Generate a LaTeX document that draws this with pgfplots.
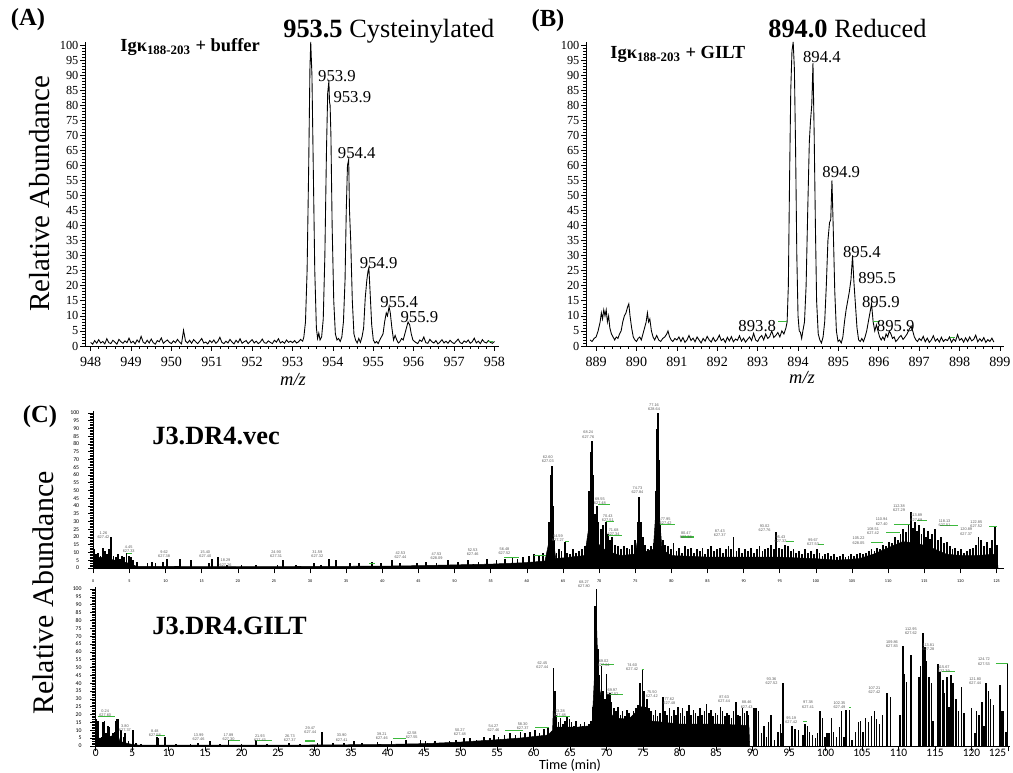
\documentclass[border=0pt]{standalone}
\usepackage{fontspec}
\setmainfont{Liberation Serif}
\newfontfamily\carlito{Carlito}
\newfontfamily\lsans{Liberation Sans}
\usepackage{pgfplots}
\pgfplotsset{compat=1.18}
\definecolor{annog}{RGB}{60,185,60}
\newcommand{\pk}[4]{\node[pklab] at (axis cs:#1,#2) {#3\\#4};}
\tikzset{
  pklab/.style={font=\lsans\fontsize{2.2}{2.4}\selectfont, text=gray!70!black, align=center, inner sep=0pt},
  plab/.style={font=\fontsize{9.5}{9.5}\selectfont, inner sep=0pt},
}
\begin{document}
\begin{tikzpicture}[x=1cm,y=1cm]
\path[use as bounding box] (0,0) rectangle (20.26,15.44);
\pgfplotsset{
  msax/.style={
    scale only axis, anchor=south west, clip=false,
    axis x line=bottom, axis y line=left, axis line style={-, line width=0.5pt},
    tick align=outside, tick style={black, line width=0.4pt},
    major tick length=2.6pt, minor tick length=1.5pt,
    ymin=0, ymax=101, ytick={0,5,...,100}, minor y tick num=4, minor x tick num=4,
    /pgf/number format/assume math mode=true, /pgf/number format/1000 sep={},
    yticklabel style={font=\fontsize{7}{7}\selectfont, inner sep=1pt},
    xticklabel style={font=\fontsize{8}{8}\selectfont},
  },
  chrom/.style={
    scale only axis, anchor=south west, clip=false,
    axis x line=bottom, axis y line=left, axis line style={-, line width=0.5pt},
    tick align=outside, tick style={black, line width=0.35pt},
    major tick length=3pt, minor tick length=2pt,
    ymin=0, ymax=101, ytick={0,5,...,100}, minor y tick num=4,
    xmin=0, xtick={0,5,...,125}, minor x tick num=0,
    /pgf/number format/assume math mode=true,
    yticklabel style={font=\carlito\fontsize{3.3}{3.3}\selectfont, xshift=-1.5pt},
  },
  ms/.style={black, line width=0.5pt, mark=none},
}

% ---------- (A) ----------
\begin{axis}[msax, at={(1.70cm,8.52cm)}, width=8.27cm, height=6.08cm,
  xmin=947.86, xmax=958.1, xtick={948,...,958}]
\addplot[ms] coordinates {
(948.00,1.2)(948.05,0.6)(948.10,1.8)(948.15,0.9)(948.20,2.1)(948.25,1.0)(948.30,1.5)(948.35,0.7)(948.40,2.4)(948.45,1.1)
(948.50,0.8)(948.55,1.9)(948.60,1.3)(948.65,0.6)(948.70,2.2)(948.75,1.4)(948.80,0.9)(948.85,1.7)(948.90,1.1)(948.95,2.6)
(949.00,1.0)(949.05,1.6)(949.10,0.7)(949.15,2.0)(949.20,1.2)(949.25,3.2)(949.30,1.3)(949.35,0.8)(949.40,1.9)(949.45,1.0)
(949.50,2.3)(949.55,1.1)(949.60,0.6)(949.65,1.8)(949.70,1.4)(949.75,2.7)(949.80,0.9)(949.85,1.5)(949.90,2.0)(949.95,1.2)
(950.00,0.8)(950.05,1.7)(950.10,1.1)(950.15,2.2)(950.20,1.3)(950.25,0.7)(950.30,5.2)(950.35,1.6)(950.40,1.0)(950.45,1.9)
(950.50,0.9)(950.55,2.1)(950.60,1.4)(950.65,0.8)(950.70,1.6)(950.75,2.5)(950.80,1.0)(950.85,1.3)(950.90,0.7)(950.95,1.8)
(951.00,1.1)(951.05,2.0)(951.10,0.9)(951.15,1.5)(951.20,2.9)(951.25,1.2)(951.30,0.8)(951.35,1.6)(951.40,1.0)(951.45,2.2)
(951.50,1.3)(951.55,0.7)(951.60,1.9)(951.65,1.1)(951.70,2.4)(951.75,0.9)(951.80,1.4)(951.85,1.8)(951.90,0.8)(951.95,1.5)
(952.00,2.1)(952.05,1.0)(952.10,1.6)(952.15,0.8)(952.20,1.3)(952.25,2.3)(952.30,1.1)(952.35,0.9)(952.40,1.7)(952.45,1.2)
(952.50,0.8)(952.55,1.9)(952.60,1.3)(952.65,2.4)(952.70,1.0)(952.75,1.5)(952.80,0.9)(952.85,2.0)(952.90,1.2)(952.95,1.6)
(953.00,1.1)(953.05,1.8)(953.10,1.0)(953.15,1.4)(953.20,2.2)(953.25,1.6)
(953.28,3)(953.32,8)(953.36,25)(953.40,60)(953.43,92)(953.45,101)(953.48,90)(953.51,62)(953.55,25)(953.59,6)(953.62,2.5)(953.65,4.3)(953.68,2)
(953.72,3)(953.76,9)(953.80,30)(953.84,65)(953.87,84)(953.90,88)(953.915,81)(953.93,80)(953.95,70)(953.98,40)(954.02,15)(954.06,4)(954.10,2)
(954.14,2.5)(954.18,1.5)(954.22,3)(954.26,8)(954.30,22)(954.33,45)(954.36,60)(954.39,62)(954.41,45)(954.44,35)(954.48,15)(954.52,4)(954.56,2)
(954.60,1)(954.64,2.5)(954.68,1.2)(954.72,3)(954.76,6)(954.80,16)(954.84,22)(954.87,25)(954.89,26)(954.92,18)(954.96,7)(955.00,2)(955.04,1)
(955.08,1.5)(955.12,0.8)(955.16,2)(955.20,3)(955.24,4)(955.28,8)(955.32,11)(955.35,10)(955.39,13)(955.42,11)(955.46,6)(955.50,2)(955.54,3.5)
(955.58,2)(955.62,1)(955.66,1.5)(955.70,2.5)(955.74,2)(955.78,4)(955.82,6)(955.86,8)(955.90,7)(955.94,4)(955.98,2)(956.02,1.5)
(956.05,1.2)(956.10,0.8)(956.15,2.0)(956.20,1.5)(956.25,3.0)(956.30,1.1)(956.35,0.9)(956.40,2.2)(956.45,1.4)(956.50,1.0)
(956.55,1.8)(956.60,0.7)(956.65,1.3)(956.70,2.1)(956.75,1.0)(956.80,1.6)(956.85,0.9)(956.90,1.9)(956.95,1.2)(957.00,0.8)
(957.05,1.5)(957.10,2.3)(957.15,1.1)(957.20,0.8)(957.25,1.7)(957.30,1.2)(957.35,2.0)(957.40,0.9)(957.45,1.4)(957.50,2.6)
(957.55,1.0)(957.60,1.6)(957.65,0.8)(957.70,2.1)(957.75,1.3)(957.80,1.0)(957.85,1.8)(957.90,1.2)(957.95,0.9)(958.00,1.5)
};
\addplot[annog, line width=0.5pt] coordinates {(957.85,1.6)(957.97,1.6)};
\node[plab] at (axis cs:954.10,89.7) {953.9};
\node[plab] at (axis cs:954.48,82.6) {953.9};
\node[plab] at (axis cs:954.59,64) {954.4};
\node[plab] at (axis cs:955.13,27.5) {954.9};
\node[plab] at (axis cs:955.64,14.7) {955.4};
\node[plab] at (axis cs:956.14,9.5) {955.9};
\end{axis}

% ---------- (B) ----------
\begin{axis}[msax, at={(11.72cm,8.52cm)}, width=8.36cm, height=6.08cm,
  xmin=888.75, xmax=899.1, xtick={889,...,899}]
\addplot[ms] coordinates {
(888.85,2.0)(888.90,1.5)(888.95,2.5)(889.00,3.0)(889.05,5.0)
(889.10,8)(889.13,11)(889.16,9)(889.19,12)(889.22,10)(889.25,12)(889.28,8)(889.31,10)(889.34,6)(889.38,4)(889.42,3)(889.46,2)(889.50,3)
(889.54,2.5)(889.58,4)(889.62,5)(889.66,8)(889.70,10)(889.74,11)(889.78,13)(889.81,14)(889.84,10)(889.88,6)(889.92,3)(889.96,2)(890.00,1.5)
(890.04,2.5)(890.08,3)(890.12,2)(890.16,4)(890.20,6)(890.24,8)(890.27,11)(890.30,8)(890.33,9)(890.37,5)(890.41,3)(890.45,2)(890.50,3.5)
(890.55,2)(890.60,1.5)(890.65,2.5)(890.70,3)(890.75,4)(890.78,5)(890.82,3)(890.86,2)(890.90,1.5)(890.95,2.5)(891.00,2)(891.05,3)
(891.10,1.5)(891.15,2.8)(891.20,1.2)(891.25,2)(891.30,3.5)(891.35,1.8)(891.40,2.6)(891.45,1.4)(891.50,3)(891.55,2)(891.60,1)(891.65,2.5)
(891.70,1.6)(891.75,3.2)(891.80,2)(891.85,1.3)(891.90,2.8)(891.95,1.5)(892.00,2.2)(892.05,3.6)(892.10,1.8)(892.15,2.4)(892.20,1.2)
(892.25,2.9)(892.30,1.7)(892.35,3.1)(892.40,1.4)(892.45,2.3)(892.50,1.9)(892.55,3.4)(892.60,1.6)(892.65,2.6)(892.70,1.3)(892.75,2.2)
(892.80,3)(892.85,1.8)(892.90,4.2)(892.95,2)(893.00,1.5)(893.05,2.8)(893.10,3.5)(893.15,2)(893.20,4)(893.25,2.5)(893.30,3.2)(893.35,5)
(893.40,2.8)(893.45,3.5)(893.50,4.5)(893.55,3)(893.60,5)(893.65,4)(893.70,6)(893.73,8)(893.76,20)(893.79,55)(893.82,85)(893.85,98)
(893.88,101)(893.91,92)(893.94,65)(893.97,30)(894.00,10)(894.03,5)(894.06,4.5)(894.09,2.5)(894.12,5)(894.16,8)(894.20,20)(894.24,45)
(894.28,68)(894.31,75)(894.34,80)(894.37,94)(894.40,70)(894.43,40)(894.46,15)(894.50,4)(894.54,2)(894.58,1)(894.62,3)(894.66,8)
(894.70,20)(894.74,35)(894.78,41)(894.81,42)(894.84,55)(894.87,40)(894.91,18)(894.95,5)(894.99,1.5)(895.03,2)(895.07,1)(895.11,3)
(895.15,8)(895.19,12)(895.23,15)(895.27,18)(895.31,22)(895.35,30)(895.38,22)(895.42,14)(895.46,6)(895.50,2)(895.54,1.5)(895.58,2.5)
(895.62,1.5)(895.66,3)(895.70,5)(895.74,8)(895.78,11)(895.82,14)(895.86,8)(895.90,5)(895.94,7)(895.98,5)(896.02,3)(896.06,2)(896.10,3)
(896.14,2)(896.18,4)(896.22,3)(896.26,5)(896.30,4)(896.34,2.5)(896.38,3)(896.42,1.5)(896.46,2)(896.50,2.8)(896.55,3.5)(896.60,2.2)
(896.65,3)(896.70,4)(896.75,5.5)(896.80,6.5)(896.84,5)(896.88,3)(896.92,2)(896.96,1.5)(897.00,2.5)(897.05,1.8)(897.10,3.2)(897.15,1.4)
(897.20,2.6)(897.25,1.2)(897.30,2)(897.35,3.4)(897.40,1.6)(897.45,2.4)(897.50,1.3)(897.55,2.9)(897.60,1.5)(897.65,2.2)(897.70,1.8)
(897.75,3)(897.80,1.2)(897.85,2.3)(897.90,1.6)(897.95,3.8)(898.00,1.9)(898.05,2.5)(898.10,1.3)(898.15,2.7)(898.20,1.5)(898.25,3)
(898.30,1.7)(898.35,2.2)(898.40,3.6)(898.45,1.4)(898.50,2.4)(898.55,1.6)(898.60,2.8)(898.65,1.2)(898.70,2.1)(898.75,1.5)(898.80,2.6)(898.85,1.3)
};
\addplot[annog, line width=0.5pt, unbounded coords=jump] coordinates {
(893.50,8)(893.72,8)(893.8,nan)(895.86,8)(896.03,8)(896.1,nan)(897.76,2.7)(897.89,2.7)};
\node[plab] at (axis cs:894.59,95.9) {894.4};
\node[plab] at (axis cs:895.07,57.9) {894.9};
\node[plab] at (axis cs:895.58,31.3) {895.4};
\node[plab] at (axis cs:895.96,22.5) {895.5};
\node[plab] at (axis cs:896.05,14.7) {895.9};
\node[plab] at (axis cs:896.42,6.6) {895.9};
\node[plab] at (axis cs:892.99,6.6) {893.8};
\end{axis}

% ---------- (C) top: J3.DR4.vec ----------
\begin{axis}[chrom, at={(1.866cm,4.08cm)}, width=18.21cm, height=3.13cm, xmax=126,
  xticklabel style={font=\carlito\fontsize{2.4}{2.4}\selectfont}]
\addplot[fill=black, draw=black, line width=0.3pt] coordinates {
(0,0)(0,6)(1,7)(2,6)(3,5)(4,4)(5,3)(6,1)(10,1)(20,0.8)(30,1)(40,1.2)(45,1.5)(50,2)(55,2.5)(60,3.5)(62.5,4.5)
(63.2,20)(63.43,45)(63.6,20)(64,6)(66,7)(68,8)(69.0,40)(69.3,20)(70,15)(71,11)(73,8)(75,9)(75.55,25)(76,10)
(77.5,12)(78.18,60)(78.4,30)(78.7,12)(80,8)(85,7)(90,7)(95,7)(100,6)(103,5)(106,6)(108,9)(110,13)(112,17)
(114,16)(116,13)(118,9)(120,8)(122,8)(125,9)(125.2,0)} \closedcycle;
\addplot[ycomb, black, line width=1.05pt, mark=none] coordinates {
(0.1,12)(0.4,9)(0.7,10)(1.0,8)(1.3,13)(1.6,11)(1.9,9)(2.2,12)(2.5,20)(2.8,8)(3.1,7)(3.4,9)(3.7,6)(4.0,8)(4.3,7)(4.6,10)(4.9,8)(5.2,7)(5.5,5)
(6.1,4)(7.5,3)(8.1,4)(8.6,3.5)(9.6,4)(10.2,6)(12.0,6)(13.5,5)(16.0,3)(16.4,6)(17.3,7)(18.5,2)(20.5,2)(22.5,2)(25.5,2)(26.2,5)(28,2)
(30.5,3)(31.5,2)(32.6,6)(33.6,5)(35.5,3)(36.8,3)(38.6,4)(39.8,3)(41.3,5)(42.5,3)(44.8,3)(46,4)(47.5,3)(49.1,5)(50.5,4)(51.8,5)
(53.3,4)(54.5,6)(55.8,5)(57.0,6)(58.0,7)(58.7,6)(59.5,7)(60.3,8)(61.0,9)(61.7,8)(62.2,10)
(63.1,30)(63.3,60)(63.43,66)(63.6,40)(63.8,18)(64.1,10)(64.4,12)(64.8,11)(65.27,17)(65.6,10)(66.0,9)(66.4,12)(66.8,10)(67.2,11)
(67.6,12)(68.0,14)(68.6,50)(68.9,75)(69.05,82)(69.2,60)(69.4,35)(69.65,40)(69.9,30)(70.2,25)(70.5,28)(70.9,30)(71.2,22)(71.5,18)
(71.8,20)(72.2,15)(72.6,14)(73.0,12)(73.4,14)(73.8,13)(74.2,12)(74.6,15)(75.0,18)(75.3,30)(75.55,46)(75.8,30)(76.1,20)(76.4,15)
(76.8,12)(77.2,14)(77.6,16)(77.9,50)(78.05,90)(78.18,100)(78.3,70)(78.5,28)(78.8,18)(79.1,15)(79.5,14)(79.9,12)(80.3,16)(80.7,11)
(81.1,13)(81.5,10)(81.9,14)(82.3,12)(82.7,13)(83.1,10)(83.5,12)(83.9,11)(84.3,13)(84.7,9)(85.1,12)(85.5,14)(85.9,11)(86.3,12)
(86.7,13)(87.1,10)(87.5,12)(87.9,14)(88.3,12)(88.6,20)(89.0,11)(89.4,13)(89.8,10)(90.2,12)(90.6,11)(91.0,13)(91.4,10)(91.8,12)
(92.2,14)(92.6,11)(93.0,12)(93.4,13)(93.8,15)(94.2,12)(94.5,23)(94.9,13)(95.3,12)(95.7,15)(96.1,14)(96.5,11)(96.9,12)(97.3,10)
(97.7,11)(98.1,9)(98.5,12)(98.9,10)(99.3,11)(99.7,9)(100.1,12)(100.5,10)(100.9,8)(101.3,9)(101.7,10)(102.1,8)(102.5,9)(102.9,7)
(103.3,8)(103.7,9)(104.1,7)(104.5,8)(104.9,9)(105.3,8)(105.7,9)(106.1,10)(106.5,9)(106.9,10)(107.3,11)(107.7,12)(108.1,11)
(108.5,13)(108.9,12)(109.3,15)(109.7,14)(110.1,17)(110.5,16)(110.9,20)(111.3,18)(111.7,22)(112.1,25)(112.5,23)(112.8,28)(113.1,36)
(113.4,26)(113.7,30)(114.0,24)(114.3,28)(114.6,22)(114.9,26)(115.2,20)(115.5,24)(115.8,19)(116.1,22)(116.5,25)(116.9,18)(117.3,20)
(117.7,16)(118.1,17)(118.5,14)(118.9,12)(119.3,13)(119.7,11)(120.1,12)(120.5,10)(120.9,11)(121.3,12)(121.7,13)(122.1,15)(122.5,20)
(122.9,18)(123.3,14)(123.7,17)(124.1,13)(124.4,18)(124.8,27)(125.1,15)
};
\addplot[annog, line width=0.6pt, unbounded coords=jump] coordinates {
(4.6,9.5)(5.3,9.5)(5.4,nan)(38.2,2.6)(39.0,2.6)(39.1,nan)(56.9,6.6)(58.9,6.6)(59,nan)(61.0,8.2)(62.7,8.2)(62.8,nan)
(65.3,17.4)(65.8,17.4)(65.9,nan)(69.9,41)(71.5,41)(71.6,nan)(70.9,30)(72.1,30)(72.2,nan)(71.2,21)(73.2,21)(73.3,nan)
(78.4,28)(80.5,28)(80.6,nan)(81.3,20)(83.1,20)(83.2,nan)(95.9,17)(96.9,17)(97,nan)(100.3,15)(101.1,15)(101.2,nan)
(107.6,16.6)(109.3,16.6)(109.4,nan)(109.7,23)(111.6,23)(111.7,nan)(110.8,28)(113.0,28)(113.1,nan)(114.0,30.8)(115.4,30.8)(115.5,nan)
(117.2,27.3)(119.6,27.3)(119.7,nan)(124.0,27)(125.0,27)};
\pk{1.4}{21}{1.26}{627.42}
\pk{4.9}{12}{4.45}{627.33}
\pk{9.8}{9}{9.62}{627.38}
\pk{15.5}{9}{15.40}{627.40}
\pk{18.3}{3.5}{18.29}{627.26}
\pk{25.3}{9}{24.90}{627.31}
\pk{31.0}{9}{31.59}{627.32}
\pk{42.5}{8.5}{42.53}{627.44}
\pk{47.5}{7.5}{47.53}{628.09}
\pk{52.5}{10}{52.53}{627.46}
\pk{56.9}{11}{56.48}{627.52}
\pk{62.9}{70}{62.60}{627.03}
\pk{64.3}{19}{64.59}{627.27}
\pk{68.5}{86}{68.24}{627.76}
\pk{70.1}{43}{69.55}{627.48}
\pk{71.2}{32}{70.43}{627.51}
\pk{72.0}{23}{71.68}{627.34}
\pk{75.3}{50}{74.73}{627.84}
\pk{77.6}{104}{77.16}{628.64}
\pk{79.2}{30}{77.95}{627.42}
\pk{82.0}{21}{80.47}{627.38}
\pk{86.7}{22.4}{87.43}{627.37}
\pk{92.9}{25.6}{93.02}{627.76}
\pk{95.1}{18.5}{95.43}{627.32}
\pk{99.6}{16.6}{99.67}{627.53}
\pk{105.9}{17.6}{105.22}{628.05}
\pk{107.9}{23.9}{108.51}{627.42}
\pk{109.1}{29.9}{110.94}{627.40}
\pk{111.5}{38.5}{112.38}{627.29}
\pk{113.9}{32.5}{113.89}{627.69}
\pk{117.8}{29}{118.13}{627.51}
\pk{120.8}{23.4}{120.89}{627.37}
\pk{122.2}{28.2}{122.85}{627.52}
\end{axis}

% ---------- (C) bottom: J3.DR4.GILT ----------
\begin{axis}[chrom, at={(1.914cm,0.52cm)}, width=18.29cm, height=3.17cm, xmax=125.3,
  xticklabels={0,5,10,15,20,25,30,35,40,45,50,55,60,65,70,75,80,85,90,95,100,105,110,115,120,\makebox[0pt][r]{125\hspace{1pt}}},
  xticklabel style={font=\carlito\fontsize{6.5}{6.5}\selectfont, yshift=5pt}]
\addplot[fill=black, draw=black, line width=0.3pt] coordinates {
(0,0)(0,5)(1,5)(2,6)(3,8)(3.3,3)(4,2)(5,1)(6,0.5)(15,0.5)(25,0.5)(35,0.8)(40,1)(45,1.5)(50,2.5)(55,4)(58,5)(60,6)(62,7)
(62.6,10)(62.75,30)(63,12)(64,12)(66,12)(68,13)(68.4,50)(68.6,80)(68.9,40)(69.3,30)(70,25)(71,18)(73,17)(74.8,25)(75.2,20)
(76,16)(78,15)(80,14)(85,14)(89.5,13)(89.6,0)} \closedcycle;
\addplot[ycomb, black, line width=0.9pt, mark=none] coordinates {
(0.1,17)(0.3,16)(0.5,5)(0.8,6)(1.0,15)(1.2,16)(1.4,8)(1.7,13)(1.8,12)(2.1,6)(2.4,8)(2.6,9)(2.8,16)(2.95,17.5)(3.1,17)(3.5,10)
(3.8,6)(4.0,8)(4.5,3)(5.1,10)(5.5,2)(6.2,1.5)
(8.4,6)(8.6,5)(9.5,6)(11,1)(13,1.5)(14,2)(15.7,3.5)(17,1.5)(18.2,4)(20,1.5)(22.0,4)(23.5,1.5)(26.5,2)(28,1.5)(30.4,2)(31.0,9)
(32.5,2)(34,2)(35.4,3)(36.5,2)(38.6,2.5)(40.5,3)(42.5,4)(44.5,4)(45.2,3)(46.5,3.5)(48.5,3)(49.4,4)(50.5,5)(51.3,5)(52.2,4)
(53.2,6)(54.0,5)(54.6,7)(55.2,6)(56.0,7)(56.8,8)(57.5,7)(58.2,9)(58.8,8)(59.5,9)(60.2,10)(60.8,8)(61.4,11)(62.0,12)
(62.7,50)(62.9,35)(63.1,20)(63.4,15)(63.7,18)(64.0,14)(64.3,16)(64.6,19)(64.9,17)(65.2,15)(65.5,13)(65.8,16)(66.1,12)(66.4,14)
(66.7,13)(67.0,15)(67.3,12)(67.6,14)(67.9,16)(68.1,25)
(68.4,89)(68.6,100)(68.85,62)(69.0,45)(69.3,51)(69.5,35)(69.8,30)(70.0,46)(70.2,33)(70.45,34)(70.7,28)(71.0,24)(71.3,22)(71.6,25)
(71.9,20)(72.2,22)(72.5,19)(72.8,23)(73.1,21)(73.4,18)(73.7,22)(74.0,24)(74.3,26)(74.6,40)(74.9,49)(75.1,35)(75.3,25)(75.5,30)
(75.8,24)(76.1,22)(76.4,20)(76.7,23)(77.0,19)(77.3,21)(77.7,31)(78.0,22)(78.3,20)(78.6,24)(78.9,19)(79.2,23)(79.5,20)(79.8,25)
(80.1,21)(80.4,24)(80.7,19)(81.0,22)(81.3,26)(81.6,20)(81.9,23)(82.2,21)(82.5,19)(82.8,24)(83.1,20)(83.4,22)(83.7,27)(84.0,21)
(84.3,23)(84.6,19)(84.9,21)(85.2,20)(85.6,25)(85.9,22)(86.2,19)(86.5,21)(86.8,20)(87.1,18)(87.4,22)(87.7,28)(88.0,20)(88.3,19)
(88.6,24)(88.9,21)(89.2,22)(89.4,20)
(90.2,24)(90.5,24)(90.8,22)(91.2,8)(91.6,13)(91.9,6)(92.2,15)(92.5,20)(93.0,4)(93.5,9)(93.8,14)(94.0,8)(94.2,40)(95.4,13)
(95.8,11)(96.3,10)(96.9,7)(97.2,14)(97.5,13)(97.8,9)(98.2,7)(98.6,5)(98.9,8)(99.2,22)(99.6,18)(99.9,6)(100.2,8)(100.5,8)
(100.8,18)(101.1,9)(101.5,6)(101.9,12)(102.2,22)(102.5,6)(102.8,23)(103.3,23)(103.6,4)(104.1,9)(104.5,15)(104.8,16)(105.1,9)
(105.5,18)(105.9,15)(106.3,19)(106.7,22)(107.0,17)(107.4,14)(107.8,20)(108.4,34)(108.9,31)(110.2,20)(110.6,64)(110.8,46)
(111.1,41)(111.7,58)(112.8,44)(113.0,51)(113.35,72)(113.6,63)(113.8,54)(114.2,44)(114.5,40)(114.7,16)(115.4,52)(115.65,47)
(116.1,42)(116.3,34)(116.6,44)(116.9,25)(117.2,45)(117.5,40)(117.9,30)(118.2,22)(118.6,37.5)(119.0,21)(120.0,24)(120.5,8)
(120.7,22)(121.0,20)(121.4,28)(121.7,13)(122.0,40)(122.3,35)(122.6,30)(123.0,26)(123.9,39)(124.2,22)(124.4,22)(124.7,9)(124.95,52)
};
\addplot[annog, line width=0.6pt, unbounded coords=jump] coordinates {
(0.36,19)(2.6,19)(2.7,nan)(8.3,6.5)(9.5,6.5)(9.6,nan)(18.2,3.6)(19.8,3.6)(19.9,nan)(22.0,3.6)(24.1,3.6)(24.2,nan)
(28.7,3.2)(30.0,3.2)(30.1,nan)(40.7,4.9)(42.5,4.9)(42.6,nan)(56.1,9.9)(58.6,9.9)(58.7,nan)(60.2,11.6)(62.1,11.6)(62.2,nan)
(63.1,18.5)(65.0,18.5)(65.1,nan)(69.3,51.7)(71.0,51.7)(71.1,nan)(70.4,33)(72.2,33)(72.3,nan)(74.8,49)(75.1,49)(75.2,nan)
(96.9,15.4)(97.5,15.4)(97.6,nan)(103.2,24.5)(103.5,24.5)(103.6,nan)(115.9,47.5)(117.8,47.5)(117.9,nan)(123.3,52.3)(125.0,52.3)};
\pk{1.3}{20.7}{0.24}{627.60}
\pk{4.0}{11.2}{3.80}{627.37}
\pk{8.1}{8}{8.48}{627.58}
\pk{14.1}{5.5}{13.99}{627.46}
\pk{18.2}{5.5}{17.89}{627.30}
\pk{22.5}{4.9}{21.93}{627.43}
\pk{26.6}{4.9}{26.73}{627.37}
\pk{29.4}{10.1}{29.47}{627.44}
\pk{33.7}{5.3}{33.90}{627.41}
\pk{39.2}{6.3}{39.21}{627.46}
\pk{43.3}{7}{42.58}{627.55}
\pk{49.9}{8.7}{50.27}{627.48}
\pk{54.5}{11.2}{54.27}{627.46}
\pk{58.5}{12.8}{58.30}{627.37}
\pk{61.2}{51.3}{62.45}{627.44}
\pk{63.6}{20.7}{63.28}{627.48}
\pk{66.9}{103}{68.27}{627.80}
\pk{69.6}{53}{69.02}{627.64}
\pk{70.8}{34.4}{69.97}{627.52}
\pk{73.5}{50.2}{74.60}{627.42}
\pk{76.2}{32.9}{75.50}{627.42}
\pk{78.6}{28.7}{77.62}{627.48}
\pk{86.1}{29.7}{87.63}{627.44}
\pk{89.2}{26.4}{88.46}{627.43}
\pk{92.6}{41.1}{93.36}{627.52}
\pk{95.3}{16.5}{95.19}{627.42}
\pk{97.6}{26.4}{97.38}{627.41}
\pk{101.9}{26}{102.35}{627.49}
\pk{106.7}{35.4}{107.21}{627.42}
\pk{109.1}{65}{109.86}{627.83}
\pk{111.7}{73.4}{112.95}{627.62}
\pk{114.1}{62.8}{113.81}{627.28}
\pk{116.2}{49.2}{115.67}{627.39}
\pk{120.5}{41.1}{121.80}{627.44}
\pk{121.7}{53.8}{124.72}{627.53}
\end{axis}

% ---------- free text ----------
\node[font=\bfseries\fontsize{14}{14}\selectfont] at (0.56,15.04) {(A)};
\node[font=\bfseries\fontsize{14}{14}\selectfont] at (10.96,15.02) {(B)};
\node[font=\bfseries\fontsize{14}{14}\selectfont] at (0.80,7.11) {(C)};
\node[anchor=base west, inner sep=0, font=\fontsize{15}{15}\selectfont] at (5.66,14.68) {\textbf{953.5} Cysteinylated};
\node[anchor=base west, inner sep=0, font=\fontsize{15}{15}\selectfont] at (15.36,14.68) {\textbf{894.0} Reduced};
\node[anchor=base west, inner sep=0, font=\bfseries\fontsize{10.5}{10.5}\selectfont] at (2.40,14.40) {Igκ\textsubscript{188-203} + buffer};
\node[anchor=base west, inner sep=0, font=\bfseries\fontsize{10.5}{10.5}\selectfont] at (12.20,14.26) {Igκ\textsubscript{188-203} + GILT};
\node[rotate=90, font=\fontsize{16.5}{16.5}\selectfont] at (0.80,11.56) {Relative Abundance};
\node[rotate=90, font=\fontsize{17}{17}\selectfont] at (0.86,3.58) {Relative Abundance};
\node[font=\itshape\fontsize{10.5}{10.5}\selectfont] at (5.86,7.84) {m/z};
\node[font=\itshape\fontsize{10.5}{10.5}\selectfont] at (16.04,7.88) {m/z};
\node[anchor=base west, inner sep=0, font=\bfseries\fontsize{15}{15}\selectfont] at (3.04,6.54) {J3.DR4.vec};
\node[anchor=base west, inner sep=0, font=\bfseries\fontsize{15}{15}\selectfont] at (3.04,2.74) {J3.DR4.GILT};
\node[anchor=base, inner sep=0, font=\carlito\fontsize{8}{8}\selectfont] at (11.40,0.04) {Time (min)};
\end{tikzpicture}
\end{document}
